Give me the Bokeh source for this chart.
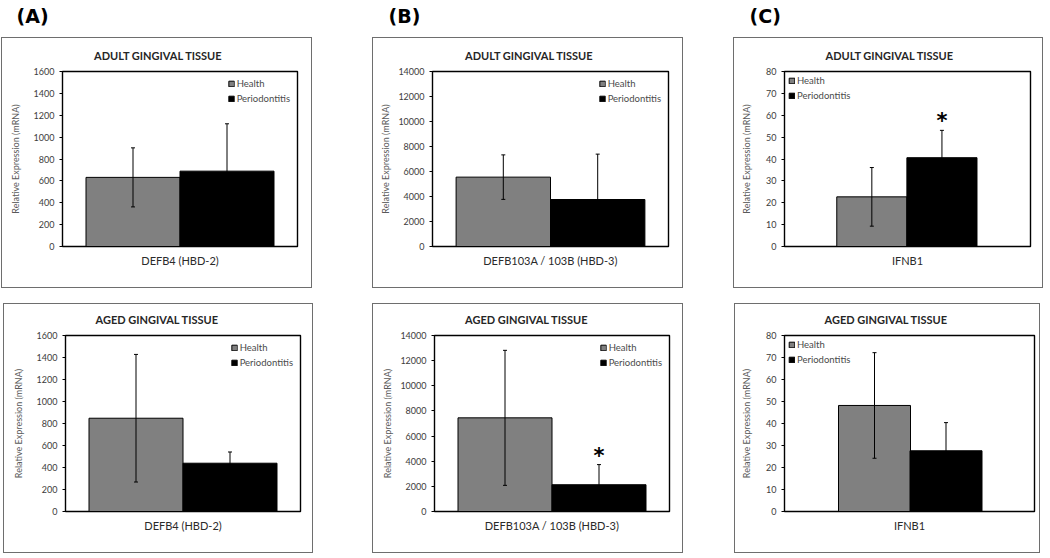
from bokeh.plotting import figure
from bokeh.layouts import column, row
from bokeh.models import (Range1d, Whisker, ColumnDataSource, FixedTicker, Spacer,
                          Title, TeeHead)
from bokeh.core.properties import value
from bokeh.embed import file_html
from bokeh.resources import INLINE

# ---------------- data ----------------
groups = ["Health", "Periodontitis"]
group_colors = ["#808080", "#000000"]

panel_labels = ["(A)", "(B)", "(C)"]
tissues = ["ADULT GINGIVAL TISSUE", "AGED GINGIVAL TISSUE"]
genes = ["DEFB4 (HBD-2)", "DEFB103A / 103B (HBD-3)", "IFNB1"]

y_max = [1600, 14000, 80]
y_step = [200, 2000, 10]

defb4_adult_mean = [632, 689]
defb4_adult_err = [270, 433]
defb4_aged_mean = [848, 439]
defb4_aged_err = [580, 102]

defb103_adult_mean = [5550, 3760]
defb103_adult_err = [1780, 3630]
defb103_aged_mean = [7450, 2130]
defb103_aged_err = [5370, 1600]

ifnb1_adult_mean = [22.7, 40.6]
ifnb1_adult_err = [13.4, 12.5]
ifnb1_aged_mean = [48.2, 27.6]
ifnb1_aged_err = [24.0, 12.8]

# significance marks (per group)
defb4_adult_sig = ["", ""]
defb4_aged_sig = ["", ""]
defb103_adult_sig = ["", ""]
defb103_aged_sig = ["", "*"]
ifnb1_adult_sig = ["", "*"]
ifnb1_aged_sig = ["", ""]

# ---------------- style / layout ----------------
FONT = "Lato"
TITLE_W = 128  # approx rendered width of the panel titles

# (column, row): box size and frame borders
geoms = {
    (0, 0): dict(W=311, H=251, L=60, R=16, T=33, B=41, centers=(0.3, 0.7), bw=0.4, leg="top_right", ls=10),
    (1, 0): dict(W=311, H=251, L=59, R=16, T=31, B=43, centers=(0.3, 0.7), bw=0.4, leg="top_right", ls=4),
    (2, 0): dict(W=310, H=251, L=50, R=14, T=31, B=38, centers=(0.355, 0.64), bw=0.285, leg="top_left", ls=11),
    (0, 1): dict(W=310, H=250, L=61, R=14, T=30, B=43, centers=(0.3, 0.7), bw=0.4, leg="top_right", ls=10),
    (1, 1): dict(W=311, H=250, L=61, R=15, T=30, B=43, centers=(0.3, 0.7), bw=0.4, leg="top_right", ls=4),
    (2, 1): dict(W=306, H=250, L=49, R=7, T=30, B=38, centers=(0.36, 0.646), bw=0.288, leg="top_left", ls=11),
}

data = {
    (0, 0): (defb4_adult_mean, defb4_adult_err, defb4_adult_sig),
    (0, 1): (defb4_aged_mean, defb4_aged_err, defb4_aged_sig),
    (1, 0): (defb103_adult_mean, defb103_adult_err, defb103_adult_sig),
    (1, 1): (defb103_aged_mean, defb103_aged_err, defb103_aged_sig),
    (2, 0): (ifnb1_adult_mean, ifnb1_adult_err, ifnb1_adult_sig),
    (2, 1): (ifnb1_aged_mean, ifnb1_aged_err, ifnb1_aged_sig),
}


def make_panel(ci, ri):
    g = geoms[(ci, ri)]
    means, errs, sig = data[(ci, ri)]
    ymax = y_max[ci]
    W, H = g["W"], g["H"]

    p = figure(width=W, height=H, output_backend="svg", toolbar_location=None,
               x_range=Range1d(0, 1), y_range=Range1d(0, ymax),
               min_border_left=g["L"], min_border_right=g["R"],
               min_border_top=g["T"], min_border_bottom=g["B"],
               background_fill_color="white", border_fill_color="white",
               styles={"border": "1px solid #6e6e6e"})
    p.title.visible = False
    p.xgrid.visible = False
    p.ygrid.visible = False
    p.outline_line_color = "black"
    p.outline_line_width = 1.4

    # panel title, centred over the whole box
    p.add_layout(Title(text=tissues[ri], align="left", vertical_align="top",
                       offset=(W / 2 - TITLE_W / 2) - g["L"],
                       standoff=16, text_font=FONT, text_font_size="11px",
                       text_font_style="bold", text_color="#262626"), "above")

    # bars
    for i, grp in enumerate(groups):
        p.vbar(x=[g["centers"][i]], top=[means[i]], width=g["bw"], bottom=0,
               fill_color=group_colors[i], line_color="black", line_width=1,
               legend_label=grp)

    src = ColumnDataSource(dict(
        x=list(g["centers"]),
        upper=[m + e for m, e in zip(means, errs)],
        lower=[m - e for m, e in zip(means, errs)],
        sig=sig,
    ))
    w = Whisker(source=src, base="x", upper="upper", lower="lower",
                line_color="black", line_width=1, level="annotation",
                upper_head=TeeHead(size=4, line_color="black", line_width=1),
                lower_head=TeeHead(size=4, line_color="black", line_width=1))
    p.add_layout(w)

    p.text(x="x", y="upper", text="sig", source=src, text_align="center",
           text_baseline="bottom", y_offset=3, text_font_size="21px",
           text_font=value("DejaVu Sans"), text_font_style="bold",
           text_color="black")

    # y axis
    p.yaxis.ticker = FixedTicker(ticks=list(range(0, ymax + 1, y_step[ci])))
    p.yaxis.minor_tick_line_color = None
    p.yaxis.major_tick_in = 0
    p.yaxis.major_tick_out = 3
    p.yaxis.major_label_standoff = 5
    p.yaxis.axis_line_color = "black"
    p.yaxis.major_label_text_font = FONT
    p.yaxis.major_label_text_font_size = "9px"
    p.yaxis.major_label_text_color = "#3c3c3c"
    p.yaxis.axis_label = "Relative Expression (mRNA)"
    p.yaxis.axis_label_text_font = FONT
    p.yaxis.axis_label_text_font_size = "9px"
    p.yaxis.axis_label_text_font_style = "normal"
    p.yaxis.axis_label_text_color = "#5a5a5a"
    p.yaxis.axis_label_standoff = g["ls"]

    # x axis
    p.xaxis.ticker = FixedTicker(ticks=[])
    p.xaxis.minor_tick_line_color = None
    p.xaxis.major_tick_out = 0
    p.xaxis.major_label_standoff = 0
    p.xaxis.axis_line_color = "black"
    p.xaxis.axis_label = genes[ci]
    p.xaxis.axis_label_text_font = FONT
    p.xaxis.axis_label_text_font_size = "11px"
    p.xaxis.axis_label_text_font_style = "normal"
    p.xaxis.axis_label_text_color = "#2a2a2a"
    p.xaxis.axis_label_standoff = 7

    lg = p.legend[0]
    lg.location = g["leg"]
    lg.background_fill_alpha = 0
    lg.border_line_alpha = 0
    lg.label_text_font = FONT
    lg.label_text_font_size = "9.5px"
    lg.label_text_color = "#4a4a4a"
    lg.glyph_width = 7
    lg.glyph_height = 7
    lg.label_height = 9
    lg.spacing = 4
    lg.label_standoff = 2
    if g["leg"] == "top_right":
        lg.padding = 5
        lg.margin = 2
    else:
        lg.padding = 3
        lg.margin = 1
    return p


# header with panel labels
HEADER_H = 37
header = figure(width=1050, height=HEADER_H, output_backend="svg", toolbar_location=None,
                x_range=Range1d(0, 1050), y_range=Range1d(0, HEADER_H),
                min_border=0, outline_line_color=None)
header.axis.visible = False
header.xgrid.visible = False
header.ygrid.visible = False
label_x = [16, 388, 749]
header.text(x=label_x, y=[HEADER_H - 15.5] * 3, text=panel_labels, text_align="left",
            text_baseline="middle", text_font=value("DejaVu Sans"), text_font_size="19px",
            text_font_style="bold", text_color="black")

top = row(Spacer(width=1), make_panel(0, 0), Spacer(width=60), make_panel(1, 0),
          Spacer(width=50), make_panel(2, 0))
bot = row(Spacer(width=3), make_panel(0, 1), Spacer(width=59), make_panel(1, 1),
          Spacer(width=51), make_panel(2, 1))
layout = column(header, top, Spacer(height=15), bot)

open("out.html", "w").write(file_html(layout, INLINE))
